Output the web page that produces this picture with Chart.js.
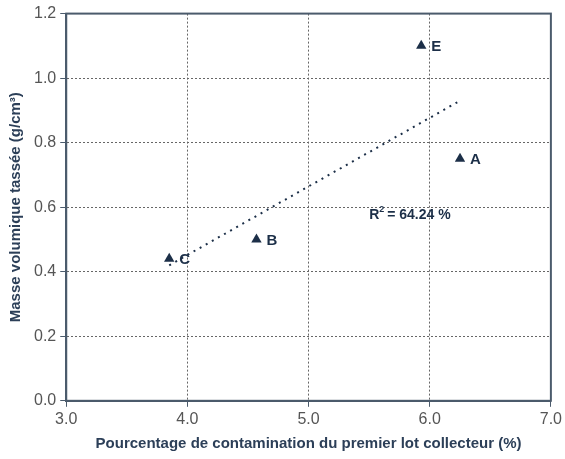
<!DOCTYPE html>
<html>
<head>
<meta charset="utf-8">
<script src="https://cdn.jsdelivr.net/npm/chart.js@4.4.2/dist/chart.umd.min.js"></script>
<style>
  html, body { margin: 0; padding: 0; background: #fff; }
  #wrap { width: 565px; height: 459px; }
</style>
</head>
<body>
<div id="wrap"><canvas id="chart"></canvas></div>
<script>
const LABELS = ['A', 'B', 'C', 'E'];
const X_VALUES = [6.25, 4.57, 3.85, 5.93];
const Y_VALUES = [0.75, 0.50, 0.44, 1.10];
const TREND_X = [3.85, 6.25];
const TREND_Y = [0.42, 0.93];
const R2_TEXT = '64.24 %';
const R2_AT = [5.5, 0.575];

const NAVY = '#1c2f48';
const AXIS = '#4b5b6c';
const FONT = '"Liberation Sans", Arial, sans-serif';

const pointLabels = {
  id: 'pointLabels',
  afterDatasetsDraw(chart) {
    const { ctx, scales: { x, y } } = chart;
    ctx.save();
    ctx.fillStyle = NAVY;
    ctx.font = 'bold 15px ' + FONT;
    ctx.textBaseline = 'middle';
    LABELS.forEach((l, i) => {
      ctx.fillText(l, x.getPixelForValue(X_VALUES[i]) + 10, y.getPixelForValue(Y_VALUES[i]) + 1);
    });
    // R² annotation
    const px = x.getPixelForValue(R2_AT[0]);
    const py = y.getPixelForValue(R2_AT[1]);
    ctx.font = 'bold 14px ' + FONT;
    ctx.fillText('R', px, py);
    const w = ctx.measureText('R').width;
    ctx.font = 'bold 9px ' + FONT;
    ctx.fillText('2', px + w, py - 6);
    ctx.font = 'bold 14px ' + FONT;
    ctx.fillText(' = ' + R2_TEXT, px + w + 4, py);
    ctx.restore();
  }
};

const frame = {
  id: 'frame',
  afterDraw(chart) {
    const { ctx, chartArea: a } = chart;
    ctx.save();
    ctx.strokeStyle = AXIS;
    ctx.lineWidth = 2;
    ctx.strokeRect(a.left, a.top, a.right - a.left, a.bottom - a.top);
    ctx.restore();
  }
};

new Chart(document.getElementById('chart'), {
  type: 'scatter',
  data: {
    datasets: [{
      data: X_VALUES.map((v, i) => ({ x: v, y: Y_VALUES[i] })),
      pointStyle: 'triangle',
      pointRadius: 6,
      backgroundColor: NAVY,
      borderColor: NAVY,
      borderWidth: 0
    }, {
      type: 'line',
      data: TREND_X.map((v, i) => ({ x: v, y: TREND_Y[i] })),
      borderColor: NAVY,
      borderWidth: 2,
      borderDash: [2, 5],
      pointRadius: 0,
      fill: false
    }]
  },
  plugins: [pointLabels, frame],
  options: {
    animation: false,
    responsive: true,
    maintainAspectRatio: false,
    layout: { padding: { top: 12, right: 4, left: 5, bottom: 4 } },
    plugins: { legend: { display: false }, tooltip: { enabled: false } },
    scales: {
      x: {
        type: 'linear',
        min: 3, max: 7,
        ticks: {
          stepSize: 1,
          color: '#555',
          font: { size: 16, family: FONT },
          callback: v => v.toFixed(1),
          padding: 3
        },
        grid: { color: '#666', lineWidth: 1, tickLength: 6, tickColor: AXIS, tickWidth: 1 },
        border: { color: AXIS, width: 2, dash: [2, 2] },
        title: {
          display: true,
          text: 'Pourcentage de contamination du premier lot collecteur (%)',
          color: '#2c3f58',
          font: { size: 15, weight: 'bold', family: FONT },
          padding: { top: 3, bottom: 2 }
        }
      },
      y: {
        min: 0, max: 1.2,
        ticks: {
          stepSize: 0.2,
          color: '#555',
          font: { size: 16, family: FONT },
          callback: v => v.toFixed(1),
          padding: 4
        },
        grid: { color: '#666', lineWidth: 1, tickLength: 6, tickColor: AXIS, tickWidth: 1 },
        border: { color: AXIS, width: 2, dash: [2, 2] },
        title: {
          display: true,
          text: 'Masse volumique tassée (g/cm³)',
          color: '#2c3f58',
          font: { size: 15, weight: 'bold', family: FONT },
          padding: { top: 2, bottom: 5 }
        }
      }
    }
  }
});
</script>
</body>
</html>
